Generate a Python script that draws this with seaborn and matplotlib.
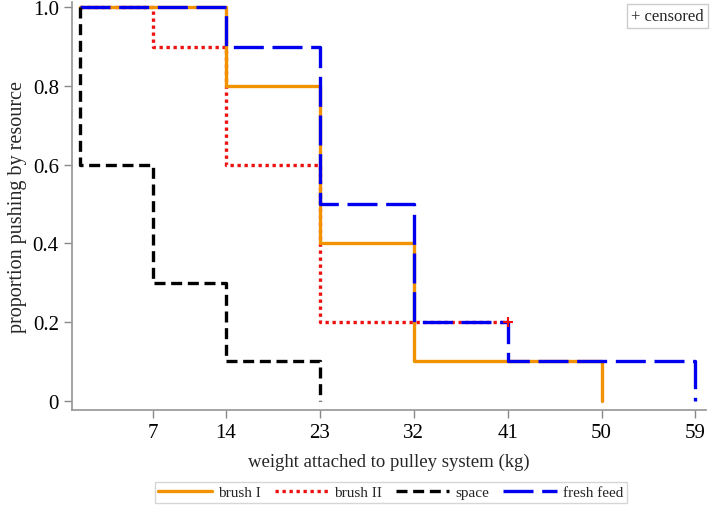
import matplotlib
matplotlib.use("Agg")
import matplotlib.pyplot as plt
import numpy as np
import pandas as pd
import seaborn as sns

# step-curve data
brush1_x = [0, 14, 23, 32, 50]
brush1_y = [1.0, 0.8, 0.4, 0.1, 0.0]
brush2_x = [0, 7, 14, 23, 41]
brush2_y = [1.0, 0.9, 0.6, 0.2, 0.2]
space_x = [0, 0, 7, 14, 23]
space_y = [1.0, 0.6, 0.3, 0.1, 0.0]
feed_x = [0, 14, 23, 32, 41, 59]
feed_y = [1.0, 0.9, 0.5, 0.2, 0.1, 0.0]
censor_x = [41]
censor_y = [0.2]

x_ticks = [7, 14, 23, 32, 41, 50, 59]
y_ticks = [0, 0.2, 0.4, 0.6, 0.8, 1.0]
y_labels = ["0", "0.2", "0.4", "0.6", "0.8", "1.0"]

sns.set_theme(style="ticks")
plt.rcParams['font.family'] = ['Liberation Serif', 'DejaVu Serif']

fig = plt.figure(figsize=(7.13, 5.06), dpi=100)
ax = fig.add_axes([0.101, 0.188, 0.889, 0.806])

# drawing order: red under orange under blue, black on top
series = [
    ("brush II", brush2_x, brush2_y, "#ee1111", (0, (1, 1.1))),
    ("brush I", brush1_x, brush1_y, "#f39200", "-"),
    ("fresh feed", feed_x, feed_y, "#0000ee", (0, (9, 2.6))),
    ("space", space_x, space_y, "black", (0, (3.3, 1.7))),
]
handles = {}
for name, xs, ys, col, ls in series:
    df = pd.DataFrame({"x": xs, "y": ys})
    sns.lineplot(data=df, x="x", y="y", sort=False, estimator=None,
                 drawstyle="steps-post", color=col, linewidth=2.4, ax=ax)
    ln = ax.lines[-1]
    ln.set_linestyle(ls)
    handles[name] = ln

sns.scatterplot(x=censor_x, y=censor_y, marker="+", color="#ee1111", s=60,
                linewidth=1.5, ax=ax, zorder=5)

ax.set_xlim(-0.75, 60)
ax.set_ylim(-0.023, 1.013)
ax.set_xticks(x_ticks)
ax.set_yticks(y_ticks)
ax.set_yticklabels(y_labels)
ax.tick_params(labelsize=15, colors="#888888", labelcolor="black", length=6, width=1)
for s in ["top", "right"]:
    ax.spines[s].set_visible(False)
for s in ["left", "bottom"]:
    ax.spines[s].set_color("#999999")
ax.set_xlabel("weight attached to pulley system (kg)", fontsize=13.5, labelpad=8)
ax.set_ylabel("proportion pushing by resource", fontsize=14.5, labelpad=4)

ax.text(0.996, 0.985, "+ censored", transform=ax.transAxes, ha="right", va="top",
        fontsize=12,
        bbox=dict(boxstyle="square,pad=0.25", fc="white", ec="#cccccc", lw=1))

order = ["brush I", "brush II", "space", "fresh feed"]
fig.legend([handles[k] for k in order], order, loc="center",
           bbox_to_anchor=(0.548, 0.025), ncol=4, fontsize=11, frameon=True,
           fancybox=False, edgecolor="#cccccc", handlelength=3.5,
           borderpad=0.25, columnspacing=0.9, handletextpad=0.4)

fig.savefig("out.png", dpi=100)
